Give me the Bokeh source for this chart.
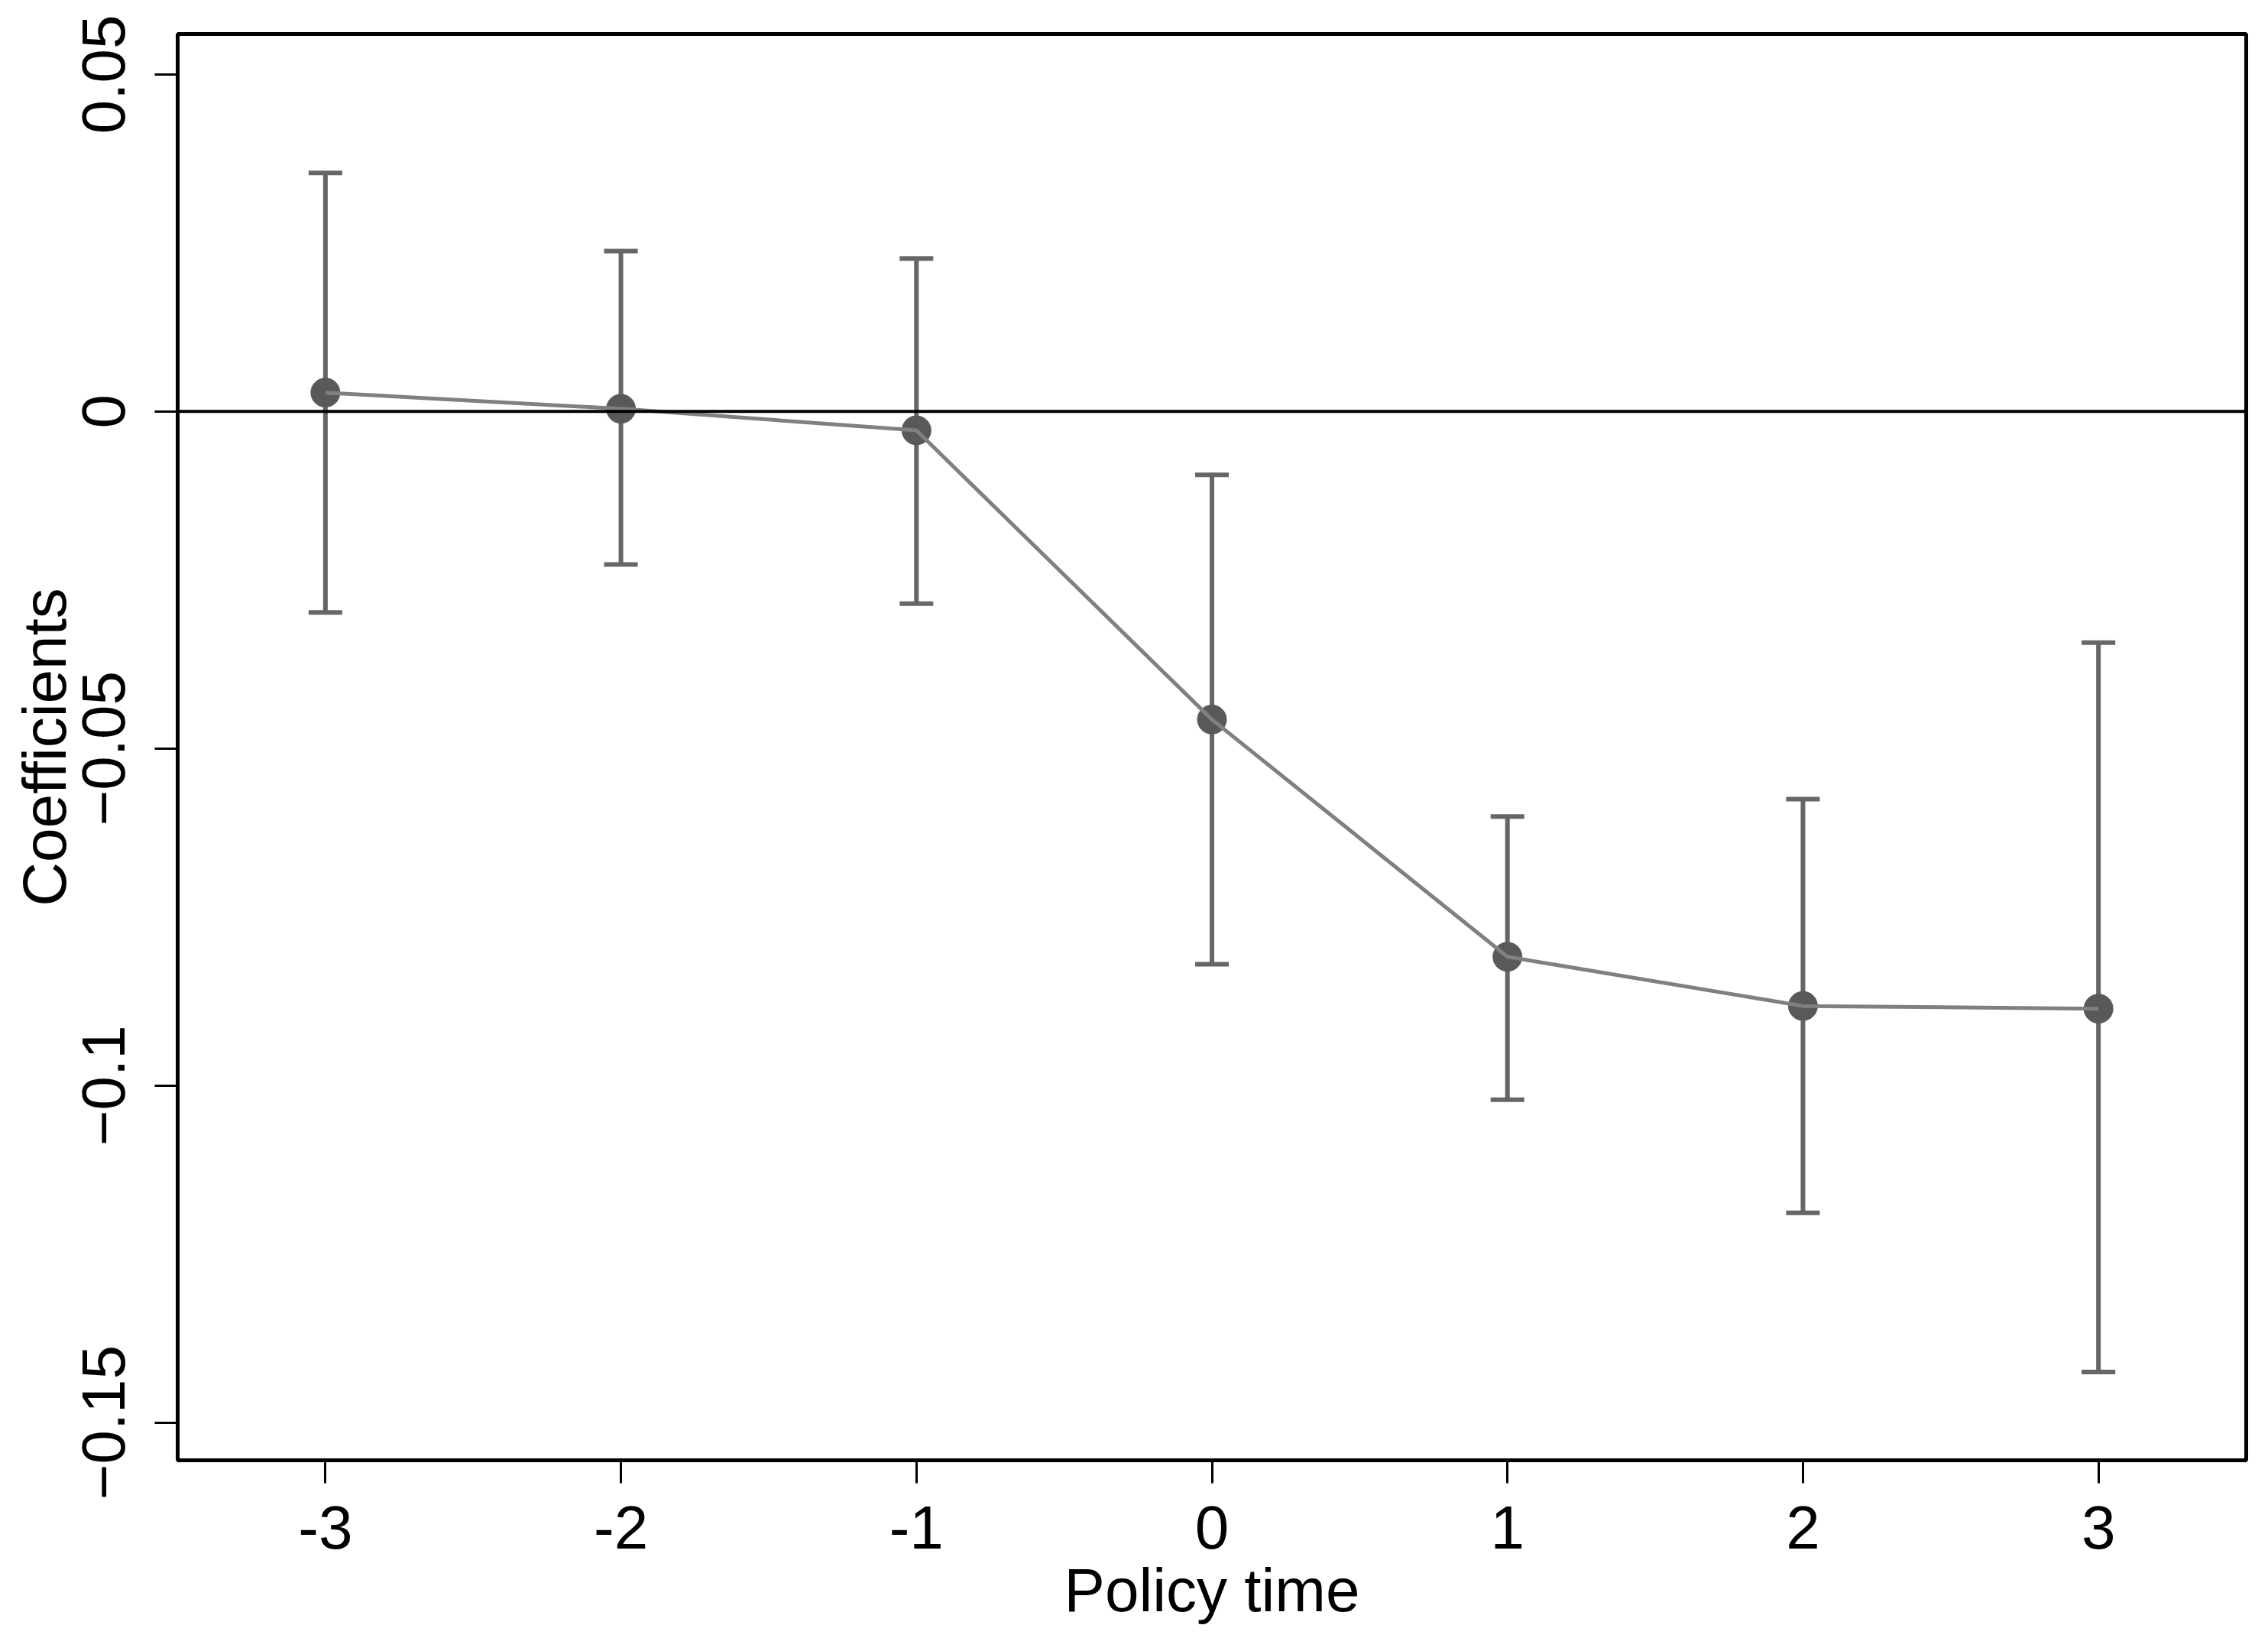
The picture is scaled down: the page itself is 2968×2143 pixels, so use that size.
from bokeh.plotting import figure
from bokeh.models import Range1d, FixedTicker, Whisker, TeeHead, ColumnDataSource, Span
from bokeh.embed import file_html
from bokeh.resources import INLINE

# ---- data ----
periods = [-3, -2, -1, 0, 1, 2, 3]
coef = [0.0028, 0.0004, -0.0028, -0.0457, -0.0809, -0.0882, -0.0886]
ci_upper = [0.0354, 0.0238, 0.0227, -0.0094, -0.0601, -0.0575, -0.0343]
ci_lower = [-0.0298, -0.0227, -0.0285, -0.0820, -0.1021, -0.1189, -0.1425]

x_ticks = [-3, -2, -1, 0, 1, 2, 3]
x_tick_labels = ["-3", "-2", "-1", "0", "1", "2", "3"]
y_ticks = [0.05, 0.0, -0.05, -0.1, -0.15]
y_tick_labels = ["0.05", "0", "\u22120.05", "\u22120.1", "\u22120.15"]

x_title = "Policy time"
y_title = "Coefficients"

FONT = "Liberation Sans"
FS = "80px"

src = ColumnDataSource(dict(x=periods, y=coef, upper=ci_upper, lower=ci_lower))

p = figure(width=2952, height=2127, output_backend="svg", toolbar_location=None,
           x_range=Range1d(-3.5, 3.5), y_range=Range1d(-0.1556, 0.056))
p.min_border_left = 232
p.min_border_right = 13
p.min_border_top = 44
p.min_border_bottom = 217
p.background_fill_color = "white"
p.border_fill_color = "white"
p.outline_line_color = "black"
p.outline_line_width = 5
p.grid.visible = False

# zero reference line
p.add_layout(Span(location=0, dimension="width", line_color="black", line_width=4))

# error bars
wh = Whisker(source=src, base="x", upper="upper", lower="lower",
             line_color="#666666", line_width=6,
             upper_head=TeeHead(size=44, line_color="#666666", line_width=6),
             lower_head=TeeHead(size=44, line_color="#666666", line_width=6))
p.add_layout(wh)

# markers then connecting line on top
p.scatter("x", "y", source=src, size=38, color="#595959")
p.line("x", "y", source=src, line_color="#808080", line_width=5)

# axes
for ax in (p.xaxis[0], p.yaxis[0]):
    ax.axis_line_color = "black"
    ax.axis_line_width = 5
    ax.major_tick_line_color = "black"
    ax.major_tick_line_width = 3
    ax.major_tick_out = 30
    ax.major_tick_in = 0
    ax.minor_tick_line_color = None
    ax.major_label_text_font = FONT
    ax.major_label_text_font_size = FS
    ax.major_label_text_color = "black"
    ax.axis_label_text_font = FONT
    ax.axis_label_text_font_size = FS
    ax.axis_label_text_font_style = "normal"
    ax.axis_label_text_color = "black"

p.xaxis.ticker = FixedTicker(ticks=x_ticks)
p.xaxis.major_label_overrides = {t: l for t, l in zip(x_ticks, x_tick_labels)}
p.xaxis.major_label_standoff = 30
p.xaxis.axis_label = x_title
p.xaxis.axis_label_standoff = 7

p.yaxis.ticker = FixedTicker(ticks=y_ticks)
p.yaxis.major_label_overrides = {t: l for t, l in zip(y_ticks, y_tick_labels)}
p.yaxis.major_label_orientation = "parallel"
p.yaxis.major_label_standoff = 39
p.yaxis.axis_label = y_title
p.yaxis.axis_label_standoff = 3

open("out.html", "w").write(file_html(p, INLINE))
